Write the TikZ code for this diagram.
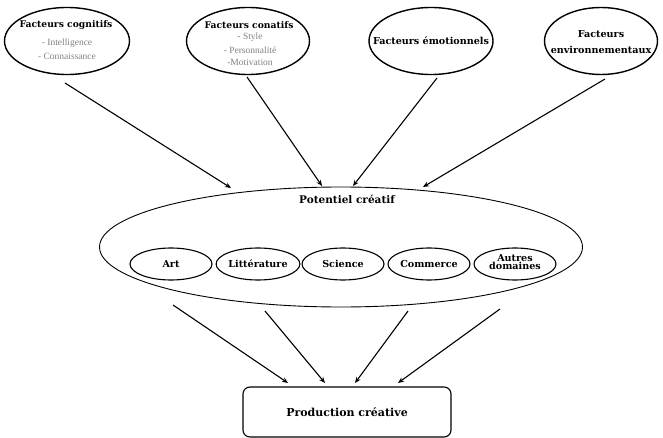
\documentclass[tikz,border=0pt]{standalone}
\usepackage{fontspec}
\setmainfont{DejaVu Serif}
\newfontfamily\subfont{Liberation Serif}
\usetikzlibrary{shapes.geometric,arrows.meta}
\begin{document}
\begin{tikzpicture}[x=1pt,y=-1pt,
  topell/.style={draw,ellipse,line width=1.4pt,inner sep=0pt,minimum width=#1,minimum height=67},
  domell/.style={draw,ellipse,line width=1.1pt,inner sep=0pt,minimum width=82,minimum height=32},
  lbl/.style={font=\bfseries\fontsize{9.2}{10}\selectfont},
  lbls/.style={font=\bfseries\fontsize{9.6}{11}\selectfont},
  domf/.style={font=\bfseries\fontsize{9.6}{10}\selectfont},
  sub/.style={font=\subfont\fontsize{9.5}{10}\selectfont,text=gray},
  arr/.style={line width=1.1pt,-{Stealth[length=6pt,width=5pt]}}]
\useasboundingbox (0,0) rectangle (663,438);
% top factor ellipses
\node[topell=125] (cog) at (67,41) {};
\node[lbl] (cogt) at (66,25) {Facteurs cognitifs};
\node[sub] (cog1) at (67,43) {- Intelligence};
\node[sub] (cog2) at (67,56) {- Connaissance};
\node[topell=123] (con) at (248,41) {};
\node[lbl] (cont) at (249,25) {Facteurs conatifs};
\node[sub] (con1) at (250,37) {- Style};
\node[sub] (con2) at (250,50) {- Personnalité};
\node[sub] (con3) at (250,62) {-Motivation};
\node[topell=124] (emo) at (431,41) {};
\node[lbls] (emot) at (431,41) {Facteurs émotionnels};
\node[topell=113] (env) at (601,41) {};
\node[lbls,align=center] (envt) at (601,42) {Facteurs\\[5pt]environnementaux};
% potential
\node[draw,ellipse,line width=0.9pt,minimum width=483,minimum height=120,inner sep=0pt] (pot) at (341,247) {};
\node[font=\bfseries\fontsize{10.5}{11}\selectfont] (pott) at (347,199) {Potentiel créatif};
\node[domell,domf] (art) at (171,264) {Art};
\node[domell,domf] (lit) at (258,264) {Littérature};
\node[domell,domf] (sci) at (343,264) {Science};
\node[domell,domf] (com) at (429,264) {Commerce};
\node[domell] (aut) at (515,264) {};
\node[domf,align=center] (autt) at (515,262) {Autres\\[-2pt]domaines};
% production
\node[draw,rounded corners=7pt,line width=1.1pt,minimum width=208,minimum height=50,font=\bfseries\fontsize{11}{12}\selectfont] (prod) at (347,412) {Production créative};
% arrow endpoints
\coordinate (a1s) at (65,83);  \coordinate (a1e) at (231,188);
\coordinate (a2s) at (247,77); \coordinate (a2e) at (322,186);
\coordinate (a3s) at (437,78); \coordinate (a3e) at (353,186);
\coordinate (a4s) at (605,79); \coordinate (a4e) at (423,187);
\coordinate (b1s) at (173,305); \coordinate (b1e) at (288,383);
\coordinate (b2s) at (265,311); \coordinate (b2e) at (325,383);
\coordinate (b3s) at (408,311); \coordinate (b3e) at (355,383);
\coordinate (b4s) at (500,309); \coordinate (b4e) at (398,383);
\draw[arr] (a1s) -- (a1e);
\draw[arr] (a2s) -- (a2e);
\draw[arr] (a3s) -- (a3e);
\draw[arr] (a4s) -- (a4e);
\draw[arr] (b1s) -- (b1e);
\draw[arr] (b2s) -- (b2e);
\draw[arr] (b3s) -- (b3e);
\draw[arr] (b4s) -- (b4e);
\end{tikzpicture}
\end{document}
